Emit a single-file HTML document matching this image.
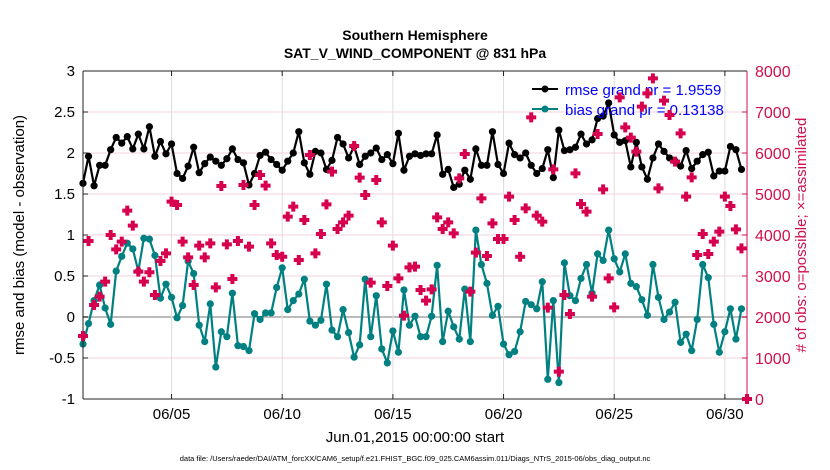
<!DOCTYPE html>
<html><head><meta charset="utf-8"><style>
body{margin:0;background:#fff;}
svg{display:block;font-family:"Liberation Sans",sans-serif;}
</style></head><body>
<svg id="chart" width="830" height="470" viewBox="0 0 830 470">
<g id="grid"></g>
<g id="series"></g>
<g id="axes"></g>
<text x="415" y="40" text-anchor="middle" font-size="14" font-weight="bold">Southern Hemisphere</text>
<text x="415" y="58" text-anchor="middle" font-size="14" font-weight="bold">SAT_V_WIND_COMPONENT @ 831 hPa</text>
<text x="415" y="442" text-anchor="middle" font-size="15">Jun.01,2015 00:00:00 start</text>
<text transform="translate(24,235) rotate(-90)" text-anchor="middle" font-size="15">rmse and bias (model - observation)</text>
<text transform="translate(806,235) rotate(-90)" text-anchor="middle" font-size="15" fill="#d0104c"># of obs: o=possible; ×=assimilated</text>
<text x="415" y="461" text-anchor="middle" font-size="7.5">data file: /Users/raeder/DAI/ATM_forcXX/CAM6_setup/f.e21.FHIST_BGC.f09_025.CAM6assim.011/Diags_NTrS_2015-06/obs_diag_output.nc</text>
<g>
<line x1="532" y1="89" x2="558" y2="89" stroke="#000" stroke-width="2"/><circle cx="545" cy="89" r="3.5" fill="#000"/>
<text x="565" y="95" font-size="15" fill="#0000ff">rmse grand pr = 1.9559</text>
<line x1="532" y1="109" x2="558" y2="109" stroke="#008080" stroke-width="2"/><circle cx="545" cy="109" r="3.5" fill="#008080"/>
<text x="565" y="115" font-size="15" fill="#0000ff">bias grand pr = 0.13138</text>
</g>
<g id="redlayer"></g>
</svg>
<script>
const rmse=[1.63,1.96,1.60,1.85,1.85,2.04,2.19,2.12,2.20,2.05,2.23,2.05,2.32,1.96,2.14,1.99,2.11,1.75,1.69,1.84,2.07,1.76,1.87,1.95,1.90,1.85,1.93,2.05,1.92,1.88,1.61,1.75,1.97,2.01,1.92,1.86,1.79,1.90,2.00,2.26,1.88,1.74,2.02,2.00,1.80,1.91,2.19,2.11,1.94,2.08,1.86,1.96,2.00,2.06,1.92,1.98,1.87,2.24,1.79,1.96,1.99,1.97,1.99,1.99,2.22,1.74,1.80,1.58,1.62,1.79,1.68,2.05,1.85,1.85,2.26,1.86,1.75,2.12,1.98,1.94,2.00,1.85,1.75,1.81,2.04,1.70,2.28,2.03,2.04,2.07,2.23,2.11,2.16,2.42,2.45,2.61,2.22,2.13,2.15,1.83,2.13,1.83,1.68,1.94,2.11,2.02,1.94,1.90,1.84,2.03,1.81,1.90,1.98,2.01,1.72,1.78,1.78,2.08,2.04,1.80];
const bias=[-0.33,-0.08,0.20,0.39,0.11,-0.09,0.56,0.74,0.90,0.83,0.56,0.96,0.95,0.75,0.23,0.40,0.24,-0.01,0.14,0.68,0.53,-0.10,-0.30,0.16,-0.61,-0.18,-0.24,0.29,-0.35,-0.36,-0.41,0.04,-0.03,0.05,0.05,0.36,0.60,0.09,0.20,0.28,0.46,-0.05,-0.10,-0.04,0.40,-0.16,-0.24,0.09,-0.19,-0.49,-0.34,0.46,-0.24,0.26,-0.39,-0.56,-0.17,-0.43,0.33,-0.10,0.01,-0.24,-0.24,0.01,0.63,-0.30,0.07,-0.12,-0.27,0.34,-0.30,1.06,0.64,0.41,0.02,0.13,-0.33,-0.46,-0.42,-0.18,0.19,0.15,0.10,0.43,-0.76,0.20,-0.80,0.66,0.26,0.20,0.47,0.64,0.29,0.77,0.69,1.06,0.71,0.55,0.77,0.41,0.37,0.21,0.02,0.64,0.24,-0.03,0.06,0.18,-0.31,-0.21,-0.41,-0.03,0.64,0.48,-0.09,-0.43,-0.18,0.10,-0.27,0.10];
const nobs=[1537,3854,2293,2496,2862,4000,3650,3837,4593,4228,3106,2862,3090,2537,3366,3553,4813,4732,3837,3455,2780,3740,3455,3797,2724,5195,3772,2927,3854,5220,3715,4732,5463,5203,3797,3512,3471,4447,4691,3390,4366,5951,3553,4024,4748,5545,4146,4309,4472,6171,5398,4976,2837,5341,4309,2756,3740,2943,2033,3211,3228,2659,2398,2675,4431,4146,4309,4041,5382,5976,2618,3569,4894,3488,4285,3902,3902,4935,4366,3471,4650,6870,4472,4325,2228,5602,667,2537,2073,5504,4756,4569,2496,6463,5114,2943,2236,7357,6626,6374,6033,7130,7455,7821,5138,7276,6927,5789,6480,4935,5406,3512,4024,3537,3837,4081,4935,4707,4138,3675,0];
const yTicks=[-1,-0.5,0,0.5,1,1.5,2,2.5,3];
const yTickLabels=["-1","-0.5","0","0.5","1","1.5","2","2.5","3"];
const y2Ticks=[0,1000,2000,3000,4000,5000,6000,7000,8000];
const xTickDays=[4,9,14,19,24,29];
const xTickLabels=["06/05","06/10","06/15","06/20","06/25","06/30"];
const stepDays=0.25;

const L=83,R=747,T=71,B=399;
const X=d=>L+(d/30)*(R-L);
const Y=v=>B-(v+1)/4*(B-T);
const Y2=c=>B-c/8000*(B-T);
const NS="http://www.w3.org/2000/svg";
function mk(tag,attrs,parent){const e=document.createElementNS(NS,tag);for(const k in attrs)e.setAttribute(k,attrs[k]);parent.appendChild(e);return e;}
const grid=document.getElementById('grid'),axes=document.getElementById('axes'),ser=document.getElementById('series'),red=document.getElementById('redlayer');

yTicks.forEach((v,i)=>{
  if(v>-1&&v<3){const g=mk('line',{x1:L,x2:R,y1:Y(v),y2:Y(v),stroke:v===0?'#bbb':'#f3d0dc','stroke-width':v===0?2:1},grid);
  
  }
  const t=mk('text',{x:L-8,y:Y(v)+5,'text-anchor':'end','font-size':15},axes);t.textContent=yTickLabels[i];
  
  
  mk('line',{x1:L,x2:L+5,y1:Y(v),y2:Y(v),stroke:'#222'},axes);
});
y2Ticks.forEach(c=>{
  const t=mk('text',{x:R+8,y:Y2(c)+6,'font-size':16,fill:'#d0104c'},axes);t.textContent=c;
  
  
  mk('line',{x1:R-5,x2:R,y1:Y2(c),y2:Y2(c),stroke:'#d0104c'},axes);
});
xTickDays.forEach((d,i)=>{
  const g=mk('line',{x1:X(d),x2:X(d),y1:T,y2:B,stroke:'#ddd','stroke-width':1},grid);
  
  
  mk('line',{x1:X(d),x2:X(d),y1:B-5,y2:B,stroke:'#222'},axes);
  mk('line',{x1:X(d),x2:X(d),y1:T,y2:T+5,stroke:'#222'},axes);
  const t=mk('text',{x:X(d),y:B+20,'text-anchor':'middle','font-size':15},axes);t.textContent=xTickLabels[i];
  
  
});
mk('line',{x1:L,x2:R,y1:T,y2:T,stroke:'#222'},axes);
mk('line',{x1:L,x2:R,y1:B,y2:B,stroke:'#222'},axes);
mk('line',{x1:L,x2:L,y1:T,y2:B,stroke:'#222'},axes);
mk('line',{x1:R,x2:R,y1:T,y2:B,stroke:'#d0104c'},axes);

function series(vals,color,name){
  const pts=vals.map((v,i)=>X(i*stepDays)+','+Y(v)).join(' ');
  const pl=mk('polyline',{points:pts,fill:'none',stroke:color,'stroke-width':2.2},ser);
  
  
  vals.forEach((v,i)=>{const c=mk('circle',{cx:X(i*stepDays),cy:Y(v),r:3.6,fill:color},ser);
    
    });
}
series(rmse,'#000','rmse');
series(bias,'#008080','bias');
nobs.forEach((c,i)=>{
  const x=X(i*stepDays),y=Y2(c);
  const p=mk('path',{d:`M${x-2},${y-5}h4v3h3v4h-3v3h-4v-3h-3v-4h3z`,fill:'#d6004f'},red);
  
  
});
</script>
</body></html>
